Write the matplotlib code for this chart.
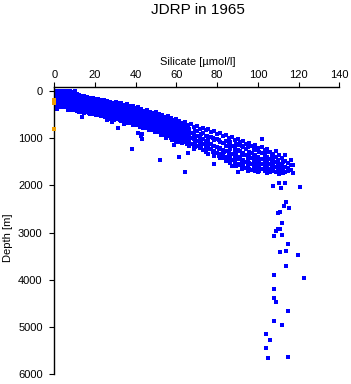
import matplotlib
matplotlib.use("Agg")
import matplotlib.pyplot as plt

plt.rcParams['font.family'] = ['Liberation Sans', 'DejaVu Sans']

# Upper ocean cloud, read column by column: (silicate, [depths])
band_columns = [
    (0.5, [0, 50, 100, 150, 250, 300]),
    (1.2, [387]),
    (1.5, [0, 50, 100, 150, 200, 250, 300]),
    (2.5, [0, 50, 100, 150, 200, 250, 300, 350]),
    (3.5, [0, 50, 100, 150, 200, 250, 300, 350]),
    (4.5, [0, 50, 100, 150, 200, 250, 300, 350]),
    (5.5, [0, 50, 100, 150, 200, 250, 300, 350]),
    (6.5, [0, 50, 100, 150, 200, 250, 300, 350, 400]),
    (7.5, [0, 50, 100, 150, 200, 250, 300, 350, 400]),
    (8.5, [30, 80, 130, 180, 230, 280, 330, 380]),
    (9.5, [60, 110, 160, 210, 260, 310, 360, 410]),
    (10.2, [0]),
    (11.0, [70, 130, 180, 240, 300, 350, 420]),
    (11.7, [100, 200, 270, 380]),
    (12.3, [90, 160, 220, 270, 330, 390, 445]),
    (13.0, [140, 210, 280, 340, 440]),
    (13.5, [120, 170, 250, 300, 360, 410, 563]),
    (14.2, [150, 220, 290, 400, 450]),
    (14.8, [110, 190, 240, 310, 370, 470]),
    (15.5, [170, 230, 290, 350, 430]),
    (16.2, [140, 210, 260, 330, 400, 450]),
    (16.9, [180, 250, 310, 380, 470]),
    (17.4, [160, 230, 290, 350, 420, 500]),
    (18.2, [190, 260, 320, 400, 460]),
    (18.9, [150, 220, 280, 370, 440, 480]),
    (19.6, [200, 270, 340, 410, 500]),
    (20.3, [180, 240, 300, 360, 430, 520]),
    (21.0, [210, 290, 350, 420, 490]),
    (21.6, [170, 260, 320, 390, 460]),
    (22.4, [220, 300, 360, 440, 510]),
    (23.1, [200, 250, 330, 400, 470, 540]),
    (23.8, [230, 310, 380, 450, 530]),
    (24.4, [190, 280, 340, 420, 500]),
    (25.1, [250, 320, 400, 470, 560]),
    (25.8, [220, 270, 350, 440, 520, 610]),
    (26.5, [260, 340, 410, 480, 590]),
    (27.2, [230, 300, 370, 430, 500, 560]),
    (27.9, [270, 350, 420, 510, 580]),
    (28.5, [250, 320, 390, 470, 540, 660]),
    (29.3, [290, 360, 430, 500, 570, 630]),
    (30.1, [240, 310, 380, 450, 520, 600]),
    (30.8, [270, 350, 420, 490, 560]),
    (31.4, [280, 340, 410, 490, 570, 795]),
    (32.2, [300, 380, 460, 540, 620]),
    (32.9, [260, 350, 430, 500, 580, 650]),
    (33.6, [330, 400, 470, 550, 610]),
    (34.2, [300, 370, 440, 520, 610, 700]),
    (35.0, [320, 410, 490, 570, 650]),
    (35.7, [290, 360, 450, 530, 600, 680]),
    (36.4, [340, 430, 510, 580, 660]),
    (37.1, [330, 400, 470, 560, 630]),
    (37.9, [360, 450, 530, 600, 690]),
    (38.0, [1232]),
    (38.6, [320, 420, 490, 570, 650, 720]),
    (39.3, [380, 460, 550, 620, 700]),
    (40.0, [360, 430, 510, 590, 680]),
    (40.7, [400, 480, 560, 650, 730]),
    (41.3, [350, 450, 530, 620, 700, 888]),
    (42.1, [420, 500, 590, 670, 760]),
    (42.8, [390, 470, 550, 640, 730, 960]),
    (43.3, [910, 1020]),
    (43.5, [440, 530, 610, 700, 780]),
    (44.2, [420, 500, 580, 670, 760]),
    (44.9, [460, 550, 630, 730]),
    (45.7, [400, 520, 600, 690, 790]),
    (46.4, [480, 570, 660, 750, 840]),
    (47.1, [440, 540, 620, 720, 810]),
    (47.8, [500, 600, 690, 780]),
    (48.6, [470, 560, 650, 740, 830]),
    (49.3, [520, 620, 710, 800, 870]),
    (50.0, [450, 590, 670, 760, 860]),
    (50.7, [540, 640, 730, 830]),
    (51.4, [500, 600, 700, 790, 880]),
    (52.0, [1465]),
    (52.2, [560, 670, 760, 850, 930]),
    (52.9, [520, 640, 720, 810, 910]),
    (53.6, [590, 690, 780, 880]),
    (54.3, [550, 660, 750, 850, 940]),
    (55.0, [610, 710, 810, 900, 990]),
    (55.8, [530, 690, 780, 870, 960]),
    (56.5, [630, 740, 840, 930]),
    (57.2, [580, 700, 800, 900, 1010]),
    (57.9, [650, 760, 860, 960, 1040]),
    (58.6, [610, 730, 830, 930, 1148]),
    (59.3, [670, 790, 890, 1000]),
    (60.0, [590, 760, 860, 960, 1060]),
    (60.7, [700, 820, 920, 1030, 1090]),
    (61.4, [640, 780, 880, 990, 1395]),
    (62.1, [730, 850, 950, 1060]),
    (62.9, [680, 810, 910, 1020, 1110]),
    (63.6, [750, 880, 990, 1080]),
    (64.0, [1712]),
    (64.3, [660, 840, 950, 1050]),
    (65.0, [780, 910, 1020, 1120]),
    (65.7, [720, 870, 980, 1080, 1323]),
    (66.4, [800, 940, 1060, 1170]),
    (67.1, [700, 890, 1000, 1120]),
    (68.6, [760, 920, 1030, 1150, 1240]),
    (69.3, [860, 1000, 1110, 1200]),
    (70.0, [740, 850, 960, 1070, 1180]),
    (71.4, [800, 990, 1100, 1210]),
    (72.1, [920, 1060, 1170]),
    (72.9, [780, 900, 1020, 1130, 1250]),
    (74.3, [840, 950, 1060, 1170, 1290]),
    (75.0, [950, 1120, 1240]),
    (75.7, [820, 1000, 1090, 1210, 1330]),
    (77.1, [880, 980, 1130, 1240]),
    (77.9, [1000, 1180, 1300]),
    (78.6, [860, 1040, 1160, 1280, 1380, 1550]),
    (80.0, [920, 1020, 1190, 1310]),
    (80.7, [1050, 1240, 1380]),
    (81.4, [900, 1080, 1220, 1340, 1430]),
    (82.9, [960, 1110, 1250, 1370]),
    (83.6, [1100, 1290, 1420]),
    (84.3, [940, 1060, 1160, 1280, 1400, 1480]),
    (85.7, [1000, 1140, 1310, 1440]),
    (86.4, [1080, 1230, 1380, 1520]),
    (87.1, [980, 1180, 1340, 1470, 1585]),
    (88.6, [1050, 1210, 1290, 1380, 1500]),
    (89.3, [1120, 1330, 1440, 1600]),
    (90.0, [1030, 1150, 1250, 1410, 1540, 1712]),
    (91.4, [1090, 1280, 1440, 1570]),
    (92.1, [1160, 1360, 1520, 1650]),
    (92.9, [1070, 1200, 1320, 1470, 1600]),
    (94.3, [1130, 1240, 1360, 1500, 1630]),
    (95.0, [1200, 1440, 1580, 1700]),
    (95.7, [1110, 1290, 1390, 1530, 1650]),
    (97.1, [1170, 1320, 1430, 1560, 1680]),
    (97.9, [1240, 1380, 1500, 1620]),
    (98.6, [1150, 1260, 1360, 1470, 1590, 1700]),
    (100.0, [1220, 1400, 1510, 1620, 1720]),
    (100.7, [1290, 1460, 1580, 1690]),
    (101.9, [1027, 1190, 1310, 1440, 1540, 1650]),
    (103.3, [1250, 1360, 1480, 1580, 1700]),
    (103.9, [1300, 1430, 1540, 1660]),
    (104.7, [1230, 1400, 1510, 1620, 1740]),
    (106.1, [1290, 1440, 1550, 1660, 1720]),
    (106.8, [1380, 1500, 1620]),
    (107.6, [1330, 1470, 1580, 1690, 2015]),
    (109.0, [1280, 1410, 1510, 1620, 1730]),
    (109.7, [1460, 1580, 1700]),
    (110.4, [1370, 1540, 1650, 1760, 1958]),
    (111.5, [2050]),
    (111.8, [1430, 1580, 1690]),
    (112.5, [1510, 1640, 1740]),
    (113.3, [1350, 1480, 1610, 1720, 1958]),
    (114.7, [1520, 1640, 1700]),
    (116.1, [1460, 1580, 1670]),
    (117.4, [1577, 1747]),
    (120.8, [2036]),
]

# Deep samples below 2000 m
deep_si = [114, 113, 115.4, 110, 111, 112, 110, 111, 109, 108.1, 112, 115, 114,
           111, 119.8, 114, 108, 122.8, 108, 108, 109, 115, 108, 112, 103.8,
           106, 103.8, 105, 115]
deep_depth = [2360, 2444, 2486, 2592, 2565, 2803, 2930, 2930, 2973, 3072, 3050,
              3247, 3389, 3416, 3467, 3712, 3903, 3966, 4186, 4389, 4460, 4658,
              4876, 4960, 5137, 5277, 5446, 5658, 5637]

# Flagged samples (orange)
flag_si = [0, 0, 0]
flag_depth = [200, 260, 820]

x_ticks = [0, 20, 40, 60, 80, 100, 120, 140]
y_ticks = [0, 1000, 2000, 3000, 4000, 5000, 6000]

silicate = []
depth = []
for si, ds in band_columns:
    for d in ds:
        silicate.append(si)
        depth.append(d)
silicate += deep_si
depth += deep_depth

fig = plt.figure(figsize=(3.51, 3.84), dpi=100)
ax = fig.add_axes([54.3 / 351, 1 - 374.3 / 384, 285 / 351, 287.6 / 384])

ax.plot(silicate, depth, 's', color='#0000ff', markersize=2.5,
        markeredgewidth=0, linestyle='none')
ax.plot(flag_si, flag_depth, 's', color='#f0a000', markersize=2.6,
        markeredgewidth=0, linestyle='none', clip_on=False, zorder=5)

ax.set_xlim(0, 140)
ax.set_ylim(6000, -85)
ax.set_xticks(x_ticks)
ax.set_yticks(y_ticks)

for side in ['right', 'bottom']:
    ax.spines[side].set_visible(False)
for side in ['top', 'left']:
    ax.spines[side].set_linewidth(1.0)

ax.xaxis.tick_top()
ax.tick_params(axis='x', direction='out', length=3.6, width=0.8, pad=1.2,
               labelsize=8)
ax.tick_params(axis='y', direction='out', length=3.6, width=0.8, pad=4.8,
               labelsize=8)

ax.set_xlabel('Silicate [µmol/l]', fontsize=8)
ax.xaxis.set_label_position('top')
ax.xaxis.set_label_coords(0.504, 1.086)
ax.xaxis.label.set_va('center')

ax.set_ylabel('Depth [m]', fontsize=8)
ax.yaxis.set_label_coords(-0.1635, 0.476)
ax.yaxis.label.set_va('center')

fig.text(198 / 351, 1 - 10 / 384, 'JDRP in 1965', fontsize=11,
         ha='center', va='center')

fig.savefig('out.png', dpi=100)
